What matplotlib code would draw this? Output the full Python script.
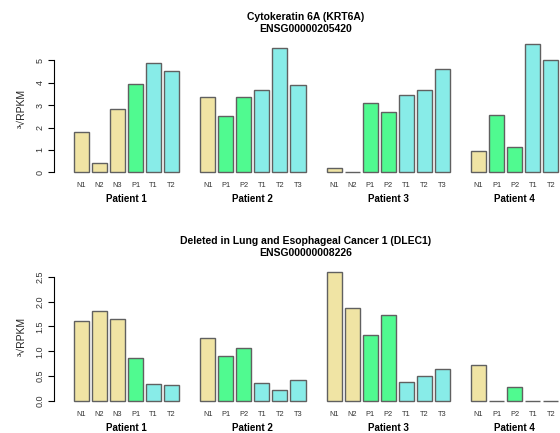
import matplotlib
matplotlib.use("Agg")
import matplotlib.pyplot as plt
from matplotlib.transforms import blended_transform_factory

plt.rcParams["font.family"] = ["Liberation Sans", "DejaVu Sans"]

# sample labels and cube-root RPKM values per patient
patients = ["Patient 1", "Patient 2", "Patient 3", "Patient 4"]
samples = [
    ["N1", "N2", "N3", "P1", "T1", "T2"],
    ["N1", "P1", "P2", "T1", "T2", "T3"],
    ["N1", "N2", "P1", "P2", "T1", "T2", "T3"],
    ["N1", "P1", "P2", "T1", "T2"],
]
krt6a = [
    [1.79, 0.40, 2.83, 3.94, 4.87, 4.52],
    [3.36, 2.53, 3.36, 3.67, 5.54, 3.88],
    [0.21, 0.02, 3.08, 2.68, 3.44, 3.67, 4.61],
    [0.94, 2.56, 1.13, 5.74, 5.03],
]
dlec1 = [
    [1.61, 1.82, 1.65, 0.87, 0.34, 0.32],
    [1.27, 0.90, 1.07, 0.37, 0.22, 0.42],
    [2.59, 1.88, 1.33, 1.74, 0.38, 0.50, 0.64],
    [0.72, 0.0, 0.28, 0.0, 0.0],
]
titles = [
    "Cytokeratin 6A (KRT6A)\nENSG00000205420",
    "Deleted in Lung and Esophageal Cancer 1 (DLEC1)\nENSG00000008226",
]
colors = {"N": "#F0E4A4", "P": "#50FA90", "T": "#88ECE8"}

W, H = 560, 433
fig = plt.figure(figsize=(W / 100, H / 100), dpi=100)


def px(x, y):
    return x / W, 1 - y / H


def draw(values, yticks, ylim, ax_top, ax_bot, title_y, lab_y, grp_y, ticklabels):
    left, right = 54.4, 577.7
    ax = fig.add_axes([left / W, 1 - ax_bot / H, (right - left) / W, (ax_bot - ax_top) / H])
    xs, hs, cs, labs, centers = [], [], [], [], []
    slot = 0
    for grp, vals in zip(samples, values):
        first = slot
        for s, v in zip(grp, vals):
            xs.append(0.2 + slot * 1.2 + 0.5)
            hs.append(v)
            cs.append(colors[s[0]])
            labs.append(s)
            slot += 1
        centers.append((0.2 + first * 1.2 + 0.2 + (slot - 1) * 1.2 + 1) / 2)
        slot += 1
    ax.bar(xs, hs, width=1.0, color=cs, edgecolor="#606060", linewidth=1.0)
    ax.set_xlim(-1.088, 33.688)
    ax.set_ylim(*ylim)
    for sp in ["top", "right", "bottom"]:
        ax.spines[sp].set_visible(False)
    ax.spines["left"].set_bounds(yticks[0], yticks[-1])
    ax.spines["left"].set_linewidth(0.8)
    ax.set_xticks([])
    ax.set_yticks(yticks)
    ax.set_yticklabels(ticklabels, rotation=90, va="center", fontsize=6.5, color="#333333")
    ax.tick_params(axis="y", length=4, width=0.8, pad=3)
    ax.set_ylabel("³√RPKM", fontsize=7.5, labelpad=6, color="#222222")
    tr = blended_transform_factory(ax.transData, fig.transFigure)
    for x, l in zip(xs, labs):
        fig.text(x, 1 - lab_y / H, l, transform=tr, ha="center", va="center",
                 fontsize=5.3, color="#333333")
    for c, p in zip(centers, patients):
        fig.text(c, 1 - grp_y / H, p, transform=tr, ha="center", va="center",
                 fontsize=7, fontweight="bold")
    return ax


draw(krt6a, [0, 1, 2, 3, 4, 5], (-0.23, 5.97), 38.6, 177.5, 23, 185.7, 199,
     ["0", "1", "2", "3", "4", "5"])
draw(dlec1, [0, 0.5, 1.0, 1.5, 2.0, 2.5], (-0.104, 2.694), 267.1, 406.2, 246, 414.3, 427.7,
     ["0.0", "0.5", "1.0", "1.5", "2.0", "2.5"])

for t, y in zip(titles, [23, 246.5]):
    fig.text(305.5 / W, 1 - y / H, t, ha="center", va="center", fontsize=7.5,
             fontweight="bold", linespacing=1.25)

fig.savefig("out.png", dpi=100)
